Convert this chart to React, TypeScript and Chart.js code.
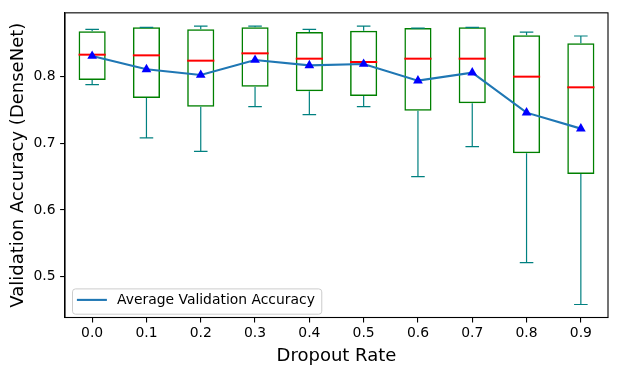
import React, { useEffect, useRef } from 'react';
import { Chart, registerables } from 'chart.js';
Chart.register(...registerables);

const categories = ['0.0', '0.1', '0.2', '0.3', '0.4', '0.5', '0.6', '0.7', '0.8', '0.9'];
const q1 = [0.795, 0.768, 0.755, 0.785, 0.778, 0.771, 0.749, 0.760, 0.685, 0.654];
const q3 = [0.868, 0.874, 0.871, 0.874, 0.867, 0.869, 0.873, 0.874, 0.862, 0.850];
const medians = [0.833, 0.832, 0.824, 0.835, 0.827, 0.822, 0.827, 0.827, 0.800, 0.784];
const whiskerLow = [0.788, 0.708, 0.688, 0.755, 0.743, 0.755, 0.650, 0.695, 0.521, 0.458];
const whiskerHigh = [0.871, 0.874, 0.876, 0.876, 0.871, 0.876, 0.873, 0.874, 0.867, 0.861];
const means = [0.831, 0.811, 0.8025, 0.825, 0.817, 0.819, 0.794, 0.806, 0.746, 0.722];
const yTicks = [0.5, 0.6, 0.7, 0.8];
const legendLabel = 'Average Validation Accuracy';

const FONT = '"DejaVu Sans", sans-serif';

export default function App() {
  const ref = useRef<HTMLCanvasElement>(null);
  useEffect(() => {
    if (!ref.current) return;

    const boxPlugin = {
      id: 'boxExtras',
      afterDatasetDraw(chart: any, args: any) {
        if (args.index !== 0) return;
        const { ctx } = chart;
        const x = chart.scales.x;
        const y = chart.scales.y;
        const unit = x.getPixelForValue(1) - x.getPixelForValue(0);
        ctx.save();
        for (let i = 0; i < categories.length; i++) {
          const cx = x.getPixelForValue(i);
          ctx.strokeStyle = '#008080';
          ctx.lineWidth = 1.2;
          ctx.beginPath();
          ctx.moveTo(cx, y.getPixelForValue(q1[i]));
          ctx.lineTo(cx, y.getPixelForValue(whiskerLow[i]));
          ctx.moveTo(cx, y.getPixelForValue(q3[i]));
          ctx.lineTo(cx, y.getPixelForValue(whiskerHigh[i]));
          const capHalf = unit * 0.125;
          ctx.moveTo(cx - capHalf, y.getPixelForValue(whiskerLow[i]));
          ctx.lineTo(cx + capHalf, y.getPixelForValue(whiskerLow[i]));
          ctx.moveTo(cx - capHalf, y.getPixelForValue(whiskerHigh[i]));
          ctx.lineTo(cx + capHalf, y.getPixelForValue(whiskerHigh[i]));
          ctx.stroke();
          ctx.strokeStyle = '#ff0000';
          ctx.lineWidth = 2;
          ctx.beginPath();
          const my = y.getPixelForValue(medians[i]);
          ctx.moveTo(cx - unit * 0.25, my);
          ctx.lineTo(cx + unit * 0.25, my);
          ctx.stroke();
        }
        ctx.restore();
      },
      afterDraw(chart: any) {
        const { ctx, chartArea } = chart;
        ctx.save();
        // spines
        ctx.strokeStyle = '#000';
        ctx.lineWidth = 1.1;
        ctx.strokeRect(chartArea.left, chartArea.top, chartArea.right - chartArea.left, chartArea.bottom - chartArea.top);
        // legend
        const fs = 13.9;
        ctx.font = `${fs}px ${FONT}`;
        const label = chart.data.datasets[1].label;
        const tw = ctx.measureText(label).width;
        const x0 = chartArea.left + 7.5;
        const y1 = chartArea.bottom - 3.3;
        const h = 25.3;
        const y0 = y1 - h;
        const w = 4.4 + 30 + 10 + tw + 7;
        const r = 3;
        ctx.beginPath();
        ctx.moveTo(x0 + r, y0);
        ctx.lineTo(x0 + w - r, y0);
        ctx.quadraticCurveTo(x0 + w, y0, x0 + w, y0 + r);
        ctx.lineTo(x0 + w, y1 - r);
        ctx.quadraticCurveTo(x0 + w, y1, x0 + w - r, y1);
        ctx.lineTo(x0 + r, y1);
        ctx.quadraticCurveTo(x0, y1, x0, y1 - r);
        ctx.lineTo(x0, y0 + r);
        ctx.quadraticCurveTo(x0, y0, x0 + r, y0);
        ctx.closePath();
        ctx.fillStyle = 'rgba(255,255,255,0.8)';
        ctx.fill();
        ctx.strokeStyle = '#cccccc';
        ctx.lineWidth = 1;
        ctx.stroke();
        const ly = y0 + 11;
        ctx.strokeStyle = '#1f77b4';
        ctx.lineWidth = 2.1;
        ctx.beginPath();
        ctx.moveTo(x0 + 4.4, ly);
        ctx.lineTo(x0 + 34.4, ly);
        ctx.stroke();
        ctx.fillStyle = '#000';
        ctx.textBaseline = 'middle';
        ctx.textAlign = 'left';
        ctx.fillText(label, x0 + 44.5, ly);
        ctx.restore();
      },
    };

    const chart = new Chart(ref.current, {
      type: 'bar',
      data: {
        labels: categories,
        datasets: [
          {
            type: 'bar',
            label: 'Boxes',
            data: categories.map((_, i) => [q1[i], q3[i]]) as any,
            backgroundColor: 'rgba(0,0,0,0)',
            borderColor: '#008000',
            borderWidth: 1.5,
            borderSkipped: false,
            barPercentage: 0.5,
            categoryPercentage: 1.0,
            order: 2,
          },
          {
            type: 'line',
            label: legendLabel,
            data: means,
            borderColor: '#1f77b4',
            borderWidth: 2.1,
            pointStyle: 'triangle',
            pointRadius: 5.6,
            pointBackgroundColor: '#0000ff',
            pointBorderColor: '#0000ff',
            pointBorderWidth: 0,
            tension: 0,
            order: 1,
          } as any,
        ],
      },
      options: {
        animation: false,
        responsive: true,
        maintainAspectRatio: false,
        layout: { padding: { left: 0, top: 10.7, right: 9, bottom: 0 } },
        plugins: {
          legend: { display: false },
          tooltip: { enabled: false },
        },
        scales: {
          x: {
            type: 'category',
            offset: true,
            grid: {
              display: true,
              drawOnChartArea: false,
              drawTicks: true,
              tickLength: 4.9,
              color: '#000',
              lineWidth: 1.1,
              offset: false,
            },
            border: { display: true, color: '#000', width: 1.1 },
            ticks: {
              color: '#000',
              font: { family: FONT, size: 13.9 },
              padding: 3,
              maxRotation: 0,
            },
            title: {
              display: true,
              text: 'Dropout Rate',
              color: '#000',
              font: { family: FONT, size: 18 },
              padding: { top: 0, bottom: 8 },
            },
            afterFit(scale: any) {
              scale.height = 57.5;
            },
          },
          y: {
            type: 'linear',
            min: 0.4385,
            max: 0.8958,
            afterBuildTicks(scale: any) {
              scale.ticks = yTicks.map((v) => ({ value: v }));
            },
            grid: {
              display: true,
              drawOnChartArea: false,
              drawTicks: true,
              tickLength: 4.9,
              color: '#000',
              lineWidth: 1.1,
            },
            border: { display: true, color: '#000', width: 1.1 },
            ticks: {
              color: '#000',
              font: { family: FONT, size: 13.9 },
              padding: 4.5,
              callback: (v: any) => Number(v).toFixed(1),
            },
            title: {
              display: true,
              text: 'Validation Accuracy (DenseNet)',
              color: '#000',
              font: { family: FONT, size: 18 },
              padding: { top: 7.5, bottom: 0 },
            },
            afterFit(scale: any) {
              scale.width = 65;
            },
          },
        },
      },
      plugins: [boxPlugin],
    });
    return () => chart.destroy();
  }, []);

  return (
    <div style={{ position: 'fixed', left: 0, top: 0, width: 617, height: 375, background: '#fff' }}>
      <canvas ref={ref} />
    </div>
  );
}
